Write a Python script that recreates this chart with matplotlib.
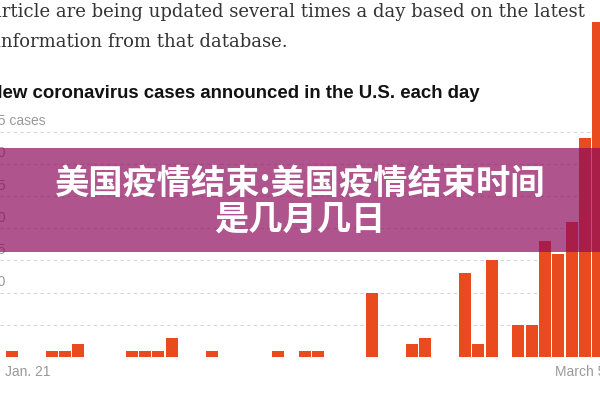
import matplotlib
matplotlib.use("Agg")
import matplotlib.pyplot as plt
from matplotlib.patches import Rectangle

# daily new cases, Jan. 21 .. March 5
days = list(range(45))
cases = [1, 0, 0, 1, 1, 2, 0, 0, 0, 1, 1, 1, 3, 0, 0, 1, 0, 0, 0, 0,
         1, 0, 1, 1, 0, 0, 0, 10, 0, 0, 2, 3, 0, 0, 13, 2, 15, 0, 5, 5,
         18, 16, 21, 34, 52]
grid_values = [0, 5, 10, 15, 20, 25, 30, 35]
grid_labels = ["", "5", "10", "15", "20", "25", "30", "35 cases"]
x_labels = ["Jan. 21", "March 5"]

intro_lines = ["article are being updated several times a day based on the latest",
               "information from that database."]
chart_title = "New coronavirus cases announced in the U.S. each day"
banner_lines = "美国疫情结束:美国疫情结束时间\n是几月几日"

bar_color = "#e94b1e"
grey = "#999999"

fig = plt.figure(figsize=(6, 4), dpi=100)
ax = fig.add_axes([0, 43 / 400, 1, 56 * 6.44 / 400])
ax.set_xlim(-0.875, 44.125)
ax.set_ylim(0, 56)
ax.axis("off")

ax.bar(days, cases, width=0.92, color=bar_color, zorder=2)

for v, lab in zip(grid_values, grid_labels):
    ax.axhline(v, color="#d6d6d6", lw=0.8, ls=(0, (3, 3)), zorder=1)
    ax.annotate(lab, xy=(-10, v), xycoords=("figure pixels", "data"),
                xytext=(0, 2.5), textcoords="offset points",
                ha="left", va="bottom", fontsize=10, color=grey,
                family="Liberation Sans", annotation_clip=False)

ax.annotate(x_labels[0], xy=(-0.5, 0), xycoords="data", xytext=(0, -6),
            textcoords="offset points", ha="left", va="top",
            fontsize=10, color=grey, family="Liberation Sans",
            annotation_clip=False)
ax.annotate(x_labels[1], xy=(44.5, 0), xycoords="data", xytext=(0, -6),
            textcoords="offset points", ha="right", va="top",
            fontsize=10, color=grey, family="Liberation Sans",
            annotation_clip=False)

# article text above the chart
fig.text(-9 / 600, 1 - 12 / 400, intro_lines[0], ha="left", va="center",
         fontsize=12.95, color="#333333", family="DejaVu Serif")
fig.text(-5 / 600, 1 - 42 / 400, intro_lines[1], ha="left", va="center",
         fontsize=12.95, color="#333333", family="DejaVu Serif")
fig.text(-11 / 600, 1 - 94 / 400, chart_title, ha="left", va="center",
         fontsize=13.45, fontweight="bold", color="#121212",
         family="Liberation Sans")

# overlay banner
fig.patches.append(Rectangle((0, 1 - 252 / 400), 1, 104 / 400,
                             transform=fig.transFigure, facecolor="#8e0b5b",
                             alpha=0.7, edgecolor="none", zorder=10))
fig.text(0.5, 1 - 201 / 400, banner_lines, ha="center", va="center",
         fontsize=24.7, fontweight="bold", color="white", linespacing=1.05,
         family=["Noto Sans CJK SC", "DejaVu Sans"], zorder=11)

fig.savefig("out.png", dpi=100)
